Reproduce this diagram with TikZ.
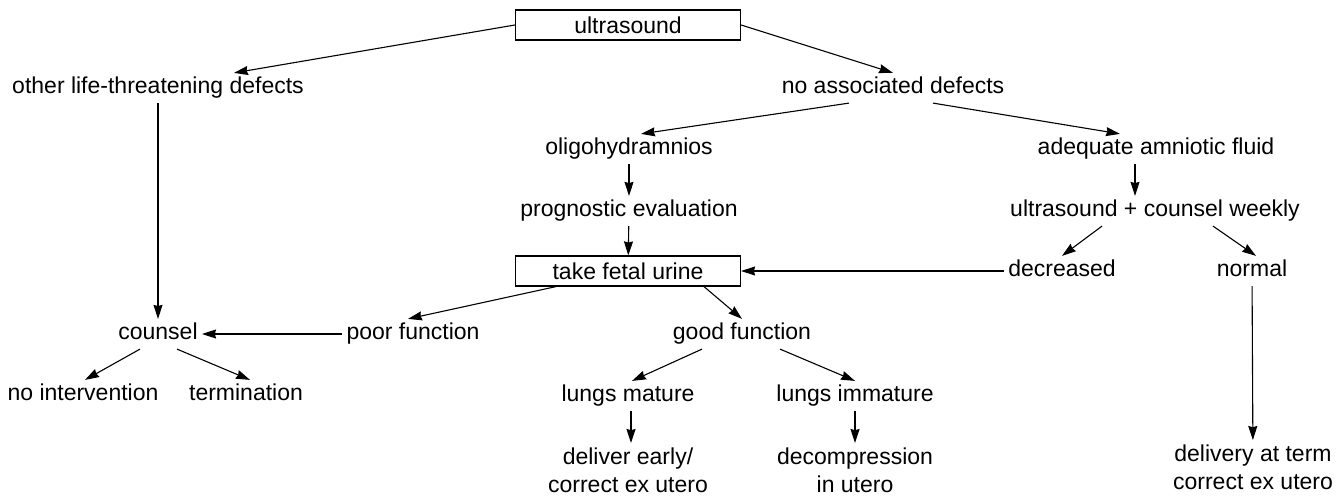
\documentclass[tikz,border=0pt]{standalone}
\usepackage{fontspec}
\setmainfont{Liberation Sans}
\usepackage{tikz}
\usetikzlibrary{arrows.meta}

\begin{document}
\begin{tikzpicture}[x=0.5pt,y=-0.5pt,font=\fontsize{11.5}{14}\selectfont,
  lb/.style={inner sep=2pt,text height=8.3pt,text depth=2.4pt},
  lbb/.style={inner sep=2pt,align=center,anchor=north},
  bx/.style={draw,line width=0.6pt,minimum width=112.5pt,minimum height=15pt,inner sep=0pt},
  ar/.style={-{Stealth[length=7pt,width=4.5pt,inset=0.6pt]},line width=0.55pt}]
\useasboundingbox (0,0) rectangle (1342,496);
\node[bx] (us) at (628,25) {ultrasound};
\node[lb] (oth) at (158,88) {other life-threatening defects};
\node[lb] (nad) at (893,88) {no associated defects};
\node[lb] (oli) at (629,149) {oligohydramnios};
\node[lb] (adq) at (1156,149) {adequate amniotic fluid};
\node[lb] (prg) at (629,211) {prognostic evaluation};
\node[lb] (ucw) at (1155,211) {ultrasound + counsel weekly};
\node[bx] (tfu) at (628,271) {take fetal urine};
\node[lb] (dec) at (1062,271) {decreased};
\node[lb] (nrm) at (1252,271) {normal};
\node[lb] (cns) at (158,334) {counsel};
\node[lb] (poor) at (413,334) {poor function};
\node[lb] (good) at (742,334) {good function};
\node[lb] (noi) at (83,395) {no intervention};
\node[lb] (trm) at (246,395) {termination};
\node[lb] (lm) at (628,396) {lungs mature};
\node[lb] (li) at (855,396) {lungs immature};
\node[lbb] (de) at (628,443) {deliver early/\\correct ex utero};
\node[lbb] (dc) at (855,443) {decompression\\in utero};
\node[lbb] (dt) at (1253,440) {delivery at term\\correct ex utero};
% top of the tree
\draw[ar] (us.west) -- ([xshift=38pt]oth.north);
\draw[ar] (us.east) -- (nad.north);
\draw[ar] ([xshift=-22pt]nad.south) -- ([xshift=6pt]oli.north);
\draw[ar] ([xshift=20pt]nad.south) -- ([xshift=-18pt]adq.north);
\draw[ar] (oth) -- (cns);
\draw[ar] (oli) -- (prg); \draw[ar] (prg) -- (tfu);
\draw[ar] ([xshift=-10.5pt]adq.south) -- ([xshift=-10pt]ucw.north);
\draw[ar] ([xshift=-26.5pt]ucw.south) -- (dec.north);
\draw[ar] ([xshift=29pt]ucw.south) -- ([xshift=2pt]nrm.north);
\draw[ar] (dec) -- (tfu);
% fetal urine results
\draw[ar] ([xshift=-36pt]tfu.south) -- ([xshift=-2.5pt]poor.north);
\draw[ar] ([xshift=38pt]tfu.south) -- (good.north);
\draw[ar] (poor) -- (cns);
\draw[ar] ([xshift=-9pt]cns.south) -- ([xshift=1pt]noi.north);
\draw[ar] ([xshift=9.5pt]cns.south) -- ([xshift=2pt]trm.north);
\draw[ar] ([xshift=-20pt]good.south) -- ([xshift=2pt]lm.north);
\draw[ar] ([xshift=19pt]good.south) -- (li.north);
\draw[ar] ([xshift=1.5pt]lm.south) -- ([xshift=1.5pt]de.north);
\draw[ar] (li) -- (dc); \draw[ar] (nrm) -- (dt);
\end{tikzpicture}
\end{document}
